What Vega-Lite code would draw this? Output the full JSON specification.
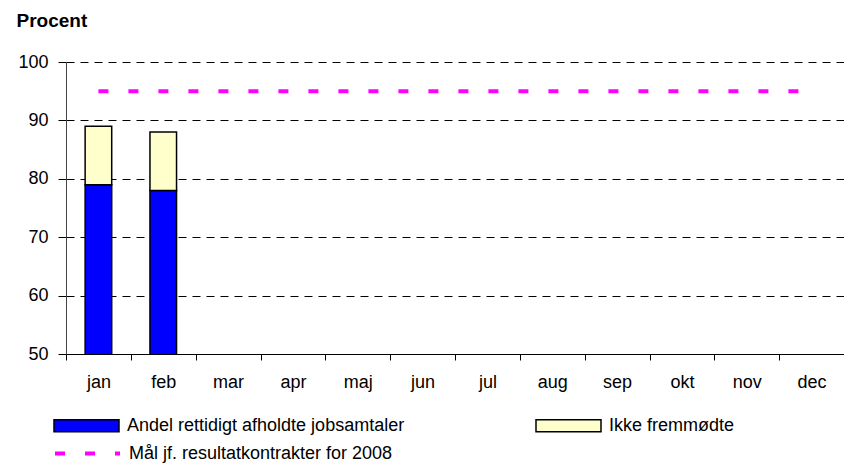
{
  "$schema": "https://vega.github.io/schema/vega-lite/v6.json",
  "width": 778,
  "height": 292,
  "autosize": "none",
  "padding": {"left": 66, "top": 62, "right": 0, "bottom": 109},
  "background": "white",
  "config": {
    "view": {"stroke": null},
    "axis": {
      "labelFont": "Liberation Sans",
      "labelFontSize": 18,
      "labelColor": "black",
      "tickColor": "black",
      "domainColor": "black"
    },
    "legend": {
      "labelFont": "Liberation Sans",
      "labelFontSize": 18,
      "labelColor": "black",
      "labelLimit": 600,
      "title": null
    }
  },
  "datasets": {
    "bars": [
      {"month": "jan", "serie": "Andel rettidigt afholdte jobsamtaler", "value": 79},
      {"month": "jan", "serie": "Ikke fremmødte", "value": 10},
      {"month": "feb", "serie": "Andel rettidigt afholdte jobsamtaler", "value": 78},
      {"month": "feb", "serie": "Ikke fremmødte", "value": 10}
    ],
    "goal": [
      {"month": "jan", "serie": "Mål jf. resultatkontrakter for 2008", "value": 95},
      {"month": "feb", "serie": "Mål jf. resultatkontrakter for 2008", "value": 95},
      {"month": "mar", "serie": "Mål jf. resultatkontrakter for 2008", "value": 95},
      {"month": "apr", "serie": "Mål jf. resultatkontrakter for 2008", "value": 95},
      {"month": "maj", "serie": "Mål jf. resultatkontrakter for 2008", "value": 95},
      {"month": "jun", "serie": "Mål jf. resultatkontrakter for 2008", "value": 95},
      {"month": "jul", "serie": "Mål jf. resultatkontrakter for 2008", "value": 95},
      {"month": "aug", "serie": "Mål jf. resultatkontrakter for 2008", "value": 95},
      {"month": "sep", "serie": "Mål jf. resultatkontrakter for 2008", "value": 95},
      {"month": "okt", "serie": "Mål jf. resultatkontrakter for 2008", "value": 95},
      {"month": "nov", "serie": "Mål jf. resultatkontrakter for 2008", "value": 95},
      {"month": "dec", "serie": "Mål jf. resultatkontrakter for 2008", "value": 95}
    ]
  },
  "encoding": {
    "x": {
      "field": "month",
      "type": "nominal",
      "sort": null,
      "title": null,
      "scale": {
        "domain": ["jan", "feb", "mar", "apr", "maj", "jun", "jul", "aug", "sep", "okt", "nov", "dec"],
        "paddingInner": 0,
        "paddingOuter": 0
      },
      "axis": {
        "labelAngle": 0,
        "tickBand": "extent",
        "tickSize": 6,
        "labelPadding": 13,
        "grid": false,
        "domainWidth": 1
      }
    },
    "y": {
      "field": "value",
      "type": "quantitative",
      "title": "Procent",
      "scale": {"domain": [50, 100], "nice": false, "zero": false},
      "axis": {
        "values": [50, 60, 70, 80, 90, 100],
        "tickSize": 8,
        "labelPadding": 10,
        "domainColor": "#444444",
        "grid": true,
        "gridColor": "black",
        "gridDash": [8, 6],
        "gridWidth": 1,
        "gridOpacity": 1,
        "titleAngle": 0,
        "titleX": -50,
        "titleY": -36,
        "titleAlign": "left",
        "titleBaseline": "alphabetic",
        "titleFont": "Liberation Sans",
        "titleFontSize": 19,
        "titleFontWeight": "bold",
        "titleColor": "black"
      }
    }
  },
  "layer": [
    {
      "data": {"name": "bars"},
      "mark": {"type": "bar", "clip": true, "width": {"band": 0.41}, "stroke": "black", "strokeWidth": 1.5},
      "encoding": {
        "y": {"field": "value", "type": "quantitative", "stack": "zero", "title": "Procent"},
        "order": {"field": "serie", "sort": "ascending"},
        "fill": {
          "field": "serie",
          "type": "nominal",
          "scale": {
            "domain": ["Andel rettidigt afholdte jobsamtaler", "Ikke fremmødte"],
            "range": ["#0000FF", "#FFFFCC"]
          },
          "legend": {
            "orient": "none",
            "legendX": -13,
            "legendY": 330,
            "direction": "horizontal",
            "columns": 2,
            "columnPadding": 128,
            "symbolType": "M-1,-0.185H1V0.185H-1Z",
            "symbolSize": 4225,
            "symbolStrokeColor": "black",
            "symbolStrokeWidth": 1.5,
            "symbolOpacity": 1,
            "labelOffset": 7
          }
        }
      }
    },
    {
      "data": {"name": "goal"},
      "mark": {"type": "line", "strokeWidth": 4, "strokeDash": [10, 20]},
      "encoding": {
        "stroke": {
          "field": "serie",
          "type": "nominal",
          "scale": {"range": ["#FF00FF"]},
          "legend": {
            "orient": "none",
            "legendX": -13,
            "legendY": 357,
            "symbolType": "stroke",
            "symbolSize": 4225,
            "symbolStrokeWidth": 4,
            "symbolDash": [10, 20],
            "labelOffset": 7
          }
        }
      }
    }
  ]
}
